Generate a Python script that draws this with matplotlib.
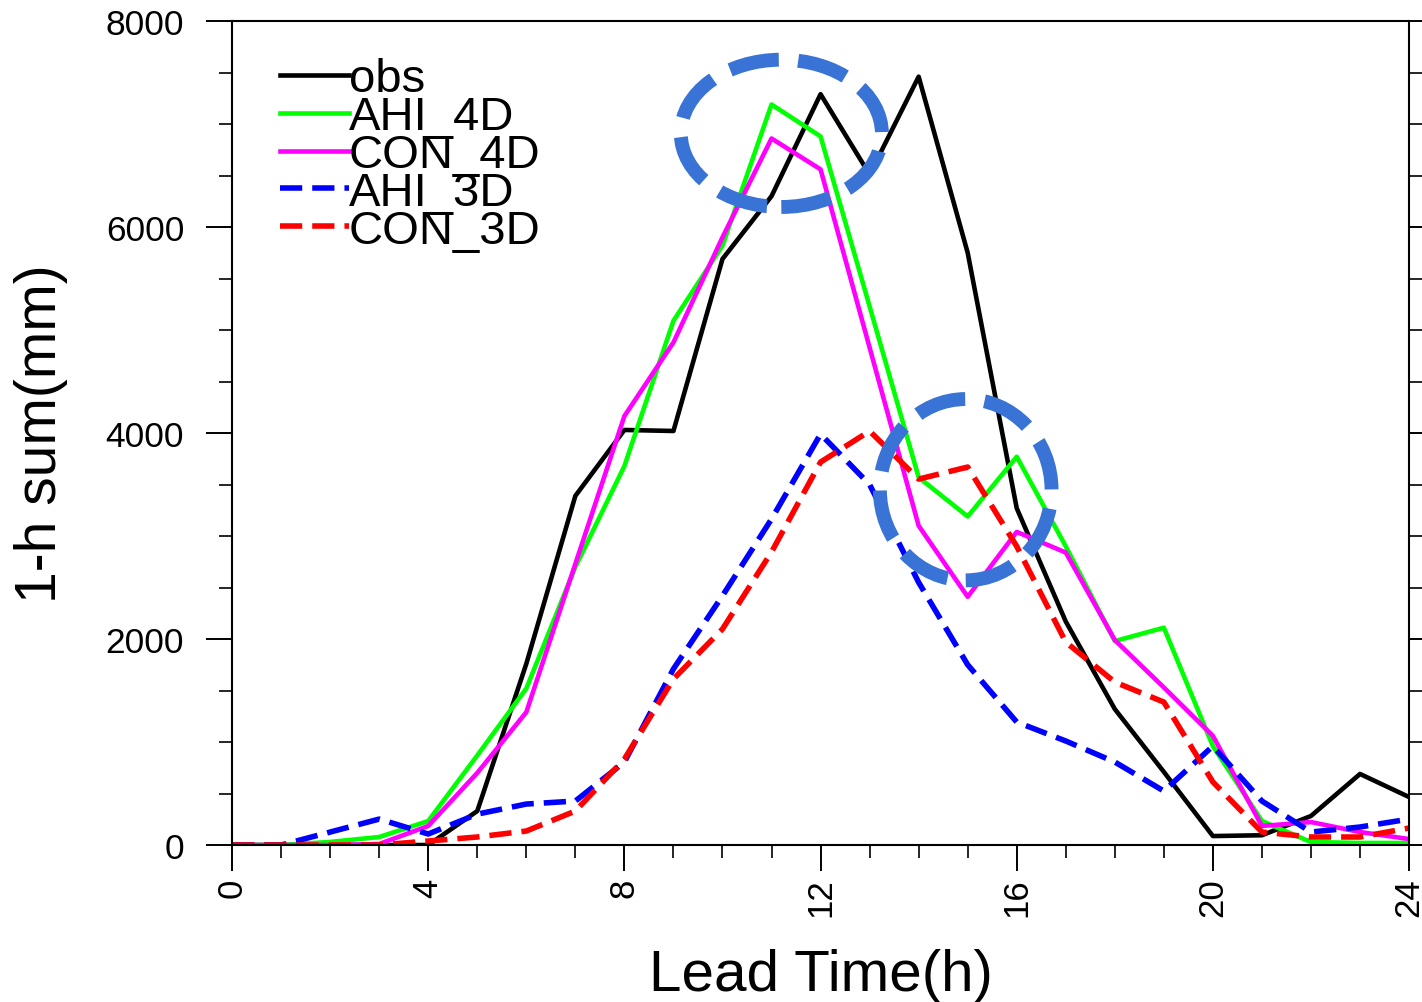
#%%
import numpy as np
import matplotlib.pyplot as plt
from matplotlib.patches import Ellipse
from matplotlib.ticker import MultipleLocator

plt.rcParams['font.family'] = ['Liberation Sans', 'DejaVu Sans']

#%%
# 1-h precipitation sum vs lead time
lead = np.arange(0, 25)

obs    = [0, 0, 0, 0, 0, 330, 1760, 3390, 4030, 4020, 5690, 6300, 7290,
          6510, 7460, 5750, 3270, 2170, 1320, 710, 87, 95, 282, 690, 466]
ahi_4d = [0, 0, 30, 78, 233, 870, 1520, 2700, 3680, 5090, 5820, 7190, 6880,
          5230, 3570, 3190, 3770, 2900, 1980, 2110, 960, 233, 29, 20, 20]
con_4d = [0, 0, 0, 10, 185, 700, 1290, 2730, 4165, 4880, 5900, 6860, 6560,
          4830, 3100, 2410, 3040, 2840, 1990, 1530, 1060, 185, 223, 126, 58]
ahi_3d = [0, 0, 126, 252, 107, 300, 398, 427, 806, 1710, 2420, 3165, 3990,
          3500, 2550, 1750, 1194, 1010, 806, 524, 961, 427, 126, 175, 252]
con_3d = [0, 0, 0, 0, 39, 78, 136, 330, 835, 1612, 2097, 2845, 3718,
          4019, 3553, 3670, 2900, 1970, 1582, 1388, 612, 126, 78, 78, 165]

names = ['obs', 'AHI_4D', 'CON_4D', 'AHI_3D', 'CON_3D']
series = [obs, ahi_4d, con_4d, ahi_3d, con_3d]
colors = ['black', '#00ff00', '#ff00ff', '#0000ff', '#ff0000']
styles = ['-', '-', '-', (0, (4, 1.8)), (0, (4, 1.8))]
widths = [3.3, 3.3, 3.3, 4.0, 4.0]

#%%
fig = plt.figure(figsize=(14.22, 10.03), dpi=100)
ax = fig.add_axes([0.1632, 0.1565, 0.8277, 0.8215])

for y, lab, c, ls, lw in zip(series, names, colors, styles, widths):
    ax.plot(lead, y, color=c, linestyle=ls, linewidth=lw, label=lab)

# highlighted regions
ell_col = '#3973d6'
for cx, cy, w, h in [(11.2, 6910, 4.1, 1430), (14.96, 3450, 3.5, 1760)]:
    ax.add_patch(Ellipse((cx, cy), w, h, fill=False, edgecolor=ell_col,
                         linewidth=10, linestyle=(0, (3.6, 1.4)), zorder=5))

ax.set_xlim(0, 24)
ax.set_ylim(0, 8000)
ax.set_xticks([0, 4, 8, 12, 16, 20, 24])
ax.xaxis.set_minor_locator(MultipleLocator(1))
ax.set_yticks([0, 2000, 4000, 6000, 8000])
ax.yaxis.set_minor_locator(MultipleLocator(500))
ax.tick_params(axis='x', which='major', labelrotation=90, labelsize=25,
               length=18.5, width=1.4, pad=5)
ax.tick_params(axis='y', which='major', labelsize=25.5, length=18.5,
               width=1.4, pad=16, right=True)
ax.tick_params(which='minor', length=9.5, width=1.2, right=True)
ax.tick_params(direction='out')
for s in ax.spines.values():
    s.set_linewidth(1.5)

ax.set_xlabel('Lead Time(h)', fontsize=42, labelpad=23)
ax.set_ylabel('1-h sum(mm)', fontsize=41, labelpad=27)

ax.legend(loc='upper left', bbox_to_anchor=(0.041, 0.956), frameon=False,
          fontsize=34, handlelength=1.45, handletextpad=0.0,
          labelspacing=-0.13, borderpad=0, borderaxespad=0)

plt.savefig('out.png', dpi=100)
